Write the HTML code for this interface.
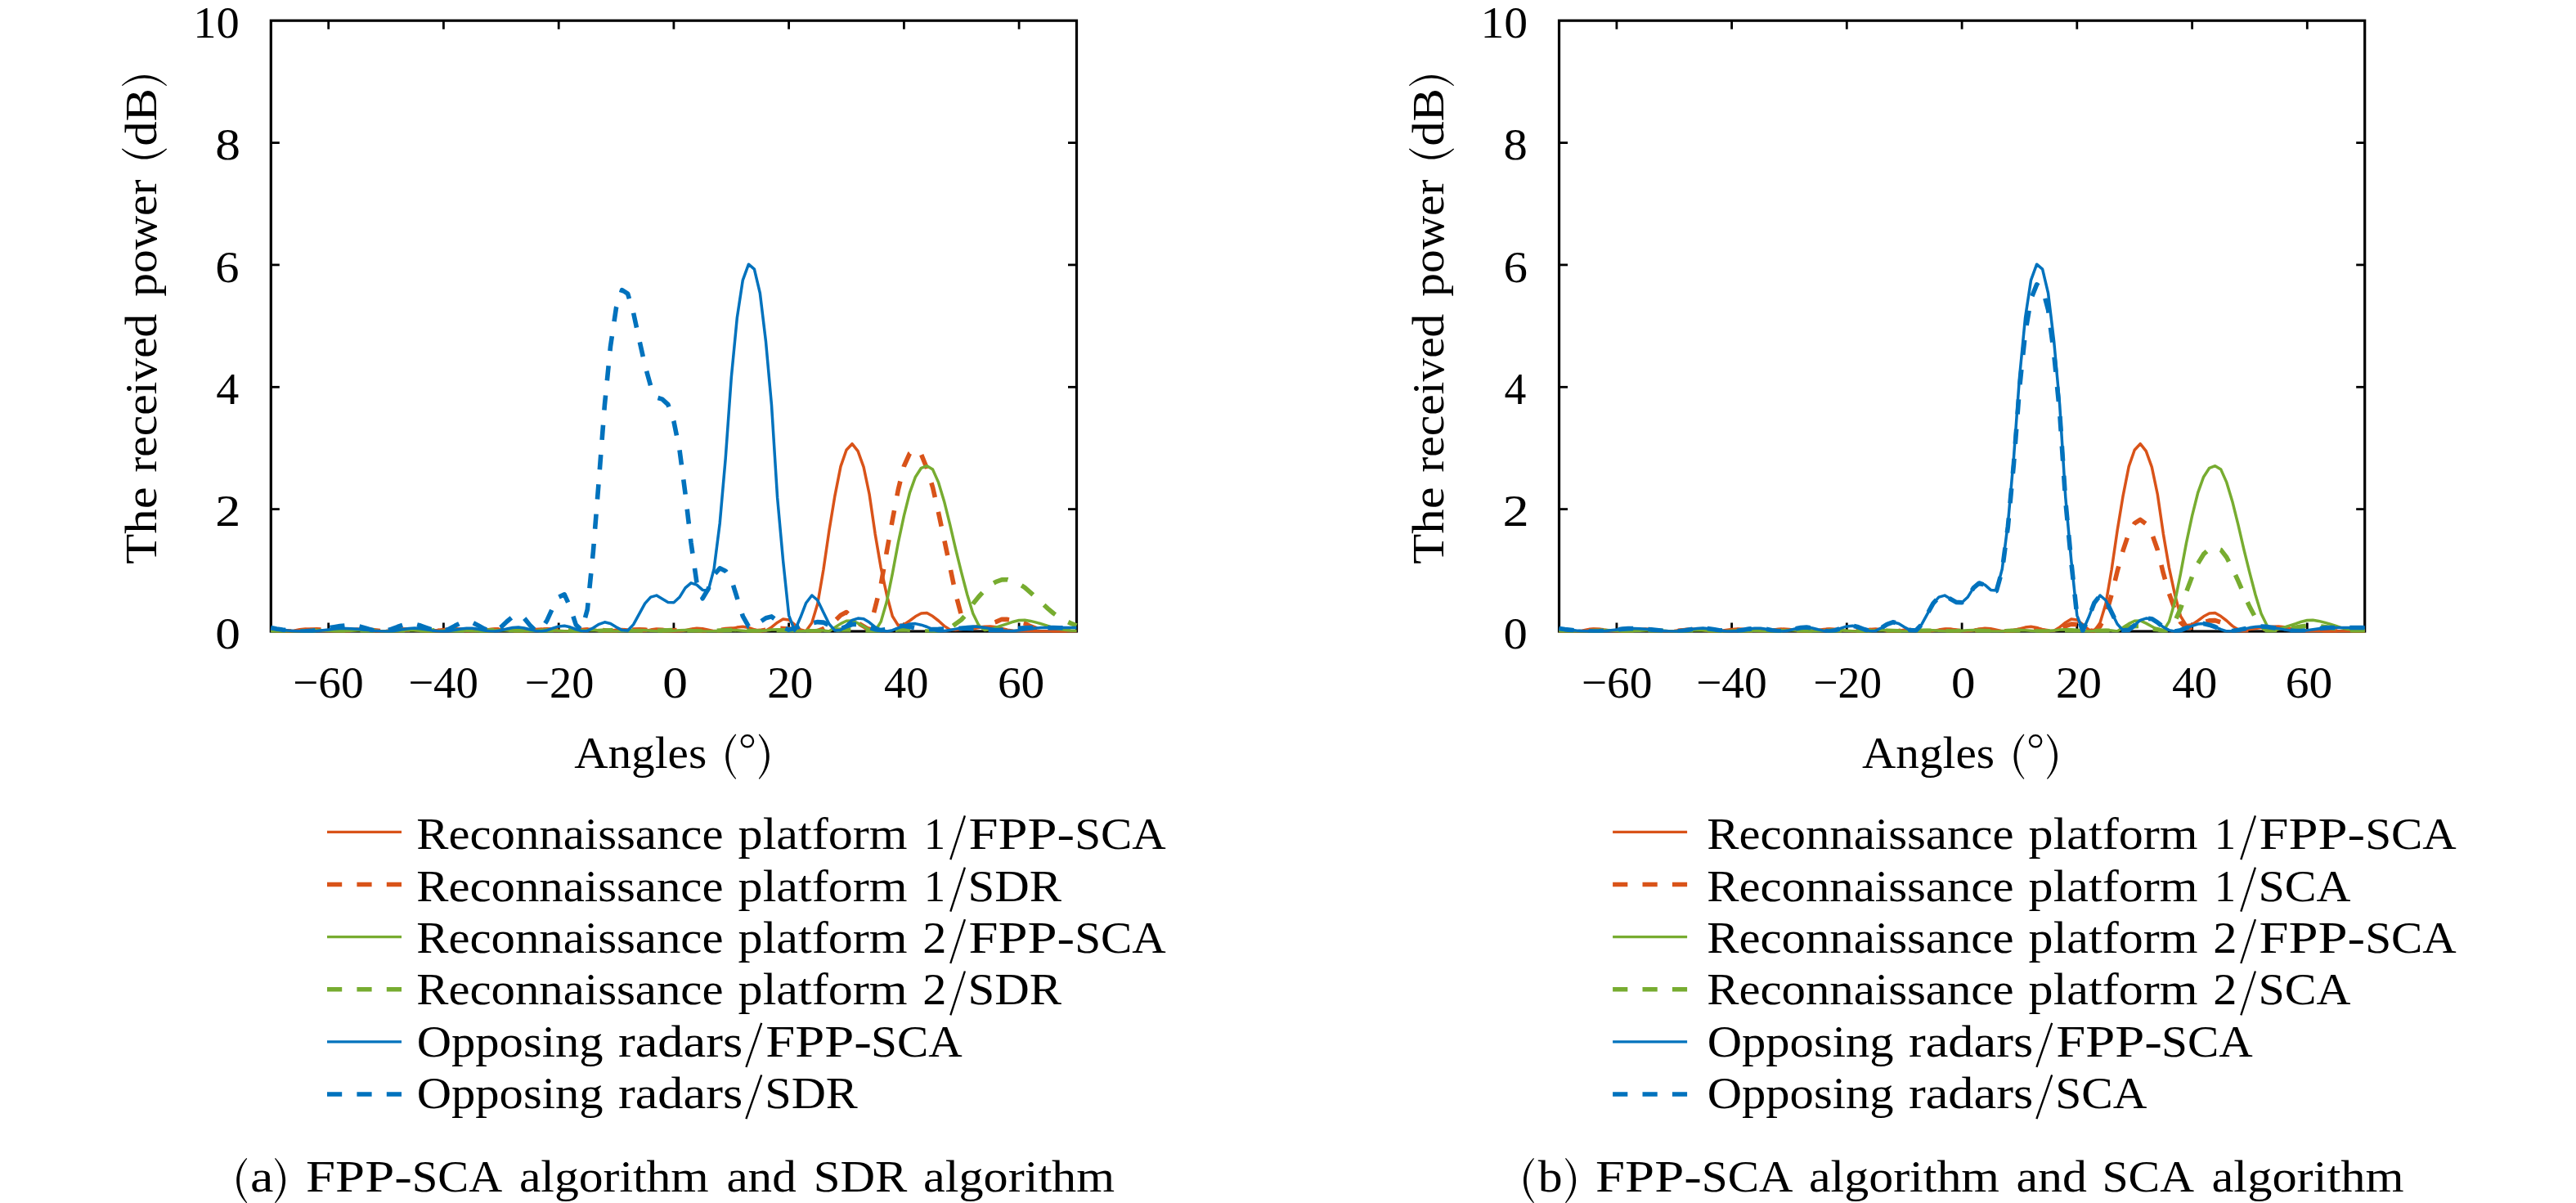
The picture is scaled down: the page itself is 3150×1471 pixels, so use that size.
<!DOCTYPE html>
<html><head><meta charset="utf-8"><title>Received power</title>
<style>
html,body{margin:0;padding:0;background:#fff;}
svg{display:block;}
text{font-family:"Liberation Serif",serif;fill:#000;}
</style></head>
<body>
<svg width="3150" height="1471" viewBox="0 0 3150 1471">
<rect width="3150" height="1471" fill="#fff"/>
<defs><clipPath id="c1"><rect x="329.8" y="23.7" width="988.2" height="749.8"/></clipPath><clipPath id="c2"><rect x="1905.0" y="23.7" width="988.2" height="749.8"/></clipPath></defs>
<!-- left chart -->
<rect x="331.3" y="25.2" width="985.2" height="746.8" fill="none" stroke="#000" stroke-width="3.2"/>
<line x1="401.7" y1="772.0" x2="401.7" y2="761.5" stroke="#000" stroke-width="2.8"/>
<line x1="401.7" y1="25.2" x2="401.7" y2="35.7" stroke="#000" stroke-width="2.8"/>
<line x1="542.4" y1="772.0" x2="542.4" y2="761.5" stroke="#000" stroke-width="2.8"/>
<line x1="542.4" y1="25.2" x2="542.4" y2="35.7" stroke="#000" stroke-width="2.8"/>
<line x1="683.2" y1="772.0" x2="683.2" y2="761.5" stroke="#000" stroke-width="2.8"/>
<line x1="683.2" y1="25.2" x2="683.2" y2="35.7" stroke="#000" stroke-width="2.8"/>
<line x1="823.9" y1="772.0" x2="823.9" y2="761.5" stroke="#000" stroke-width="2.8"/>
<line x1="823.9" y1="25.2" x2="823.9" y2="35.7" stroke="#000" stroke-width="2.8"/>
<line x1="964.6" y1="772.0" x2="964.6" y2="761.5" stroke="#000" stroke-width="2.8"/>
<line x1="964.6" y1="25.2" x2="964.6" y2="35.7" stroke="#000" stroke-width="2.8"/>
<line x1="1105.4" y1="772.0" x2="1105.4" y2="761.5" stroke="#000" stroke-width="2.8"/>
<line x1="1105.4" y1="25.2" x2="1105.4" y2="35.7" stroke="#000" stroke-width="2.8"/>
<line x1="1246.1" y1="772.0" x2="1246.1" y2="761.5" stroke="#000" stroke-width="2.8"/>
<line x1="1246.1" y1="25.2" x2="1246.1" y2="35.7" stroke="#000" stroke-width="2.8"/>
<line x1="331.3" y1="622.6" x2="341.8" y2="622.6" stroke="#000" stroke-width="2.8"/>
<line x1="1316.5" y1="622.6" x2="1306.0" y2="622.6" stroke="#000" stroke-width="2.8"/>
<line x1="331.3" y1="473.3" x2="341.8" y2="473.3" stroke="#000" stroke-width="2.8"/>
<line x1="1316.5" y1="473.3" x2="1306.0" y2="473.3" stroke="#000" stroke-width="2.8"/>
<line x1="331.3" y1="323.9" x2="341.8" y2="323.9" stroke="#000" stroke-width="2.8"/>
<line x1="1316.5" y1="323.9" x2="1306.0" y2="323.9" stroke="#000" stroke-width="2.8"/>
<line x1="331.3" y1="174.6" x2="341.8" y2="174.6" stroke="#000" stroke-width="2.8"/>
<line x1="1316.5" y1="174.6" x2="1306.0" y2="174.6" stroke="#000" stroke-width="2.8"/>
<g clip-path="url(#c1)">
<polyline points="331.3,770.5 338.3,771.4 345.4,771.9 352.4,772.0 359.4,771.2 366.5,769.8 373.5,769.0 380.6,769.4 387.6,770.3 394.6,771.2 401.7,771.9 408.7,771.9 415.7,771.2 422.8,770.3 429.8,769.4 436.9,769.0 443.9,769.5 450.9,770.5 458.0,771.5 465.0,772.0 472.0,771.5 479.1,770.5 486.1,769.5 493.2,769.0 500.2,769.5 507.2,770.5 514.3,771.5 521.3,772.0 528.3,771.5 535.4,770.5 542.4,769.5 549.4,769.0 556.5,769.5 563.5,770.5 570.6,771.5 577.6,772.0 584.6,771.5 591.7,770.5 598.7,769.5 605.7,769.0 612.8,769.5 619.8,770.5 626.9,771.5 633.9,772.0 640.9,771.5 648.0,770.5 655.0,769.5 662.0,769.0 669.1,769.5 676.1,770.5 683.2,771.5 690.2,772.0 697.2,771.5 704.3,770.5 711.3,769.5 718.3,769.0 725.4,769.8 732.4,771.2 739.4,772.0 746.5,771.3 753.5,770.1 760.6,769.4 767.6,770.1 774.6,771.3 781.7,772.0 788.7,771.4 795.7,770.1 802.8,769.1 809.8,769.3 816.9,770.4 823.9,771.7 830.9,771.9 838.0,770.8 845.0,769.2 852.0,768.3 859.1,768.8 866.1,770.2 873.1,771.6 880.2,772.0 887.2,770.9 894.3,768.9 901.3,767.1 908.3,766.3 915.4,767.5 922.4,769.8 929.4,771.7 936.5,771.3 943.5,766.9 950.6,761.2 957.6,757.1 964.6,758.0 971.7,763.7 978.7,769.9 985.7,771.6 992.8,761.6 999.8,738.2 1006.9,696.8 1013.9,648.8 1020.9,606.3 1028.0,570.4 1035.0,550.2 1042.0,542.7 1049.1,551.7 1056.1,571.1 1063.1,604.5 1070.2,653.1 1077.2,694.1 1084.3,727.2 1091.3,753.5 1098.3,764.7 1105.4,763.8 1112.4,759.0 1119.4,753.8 1126.5,750.0 1133.5,749.6 1140.6,753.6 1147.6,759.0 1154.6,765.4 1161.7,770.0 1168.7,770.3 1175.7,769.5 1182.8,768.4 1189.8,767.5 1196.9,766.9 1203.9,766.3 1210.9,766.0 1218.0,766.8 1225.0,768.5 1232.0,770.3 1239.1,771.3 1246.1,771.5 1253.1,771.7 1260.2,771.8 1267.2,771.9 1274.3,772.0 1281.3,772.0 1288.3,772.0 1295.4,772.0 1302.4,772.0 1309.4,772.0 1316.5,772.0" fill="none" stroke="#D95319" stroke-width="3.5" stroke-linejoin="round"/>
<polyline points="331.3,770.5 338.3,771.2 345.4,771.7 352.4,771.9 359.4,772.0 366.5,771.6 373.5,770.9 380.6,770.1 387.6,769.8 394.6,770.1 401.7,770.9 408.7,771.6 415.7,772.0 422.8,771.6 429.8,770.9 436.9,770.1 443.9,769.8 450.9,770.1 458.0,770.9 465.0,771.6 472.0,772.0 479.1,771.6 486.1,770.9 493.2,770.1 500.2,769.8 507.2,770.1 514.3,770.9 521.3,771.6 528.3,772.0 535.4,771.6 542.4,770.9 549.4,770.1 556.5,769.8 563.5,770.1 570.6,770.9 577.6,771.6 584.6,772.0 591.7,771.6 598.7,770.9 605.7,770.1 612.8,769.8 619.8,770.1 626.9,770.9 633.9,771.6 640.9,772.0 648.0,771.6 655.0,770.9 662.0,770.1 669.1,769.8 676.1,770.1 683.2,770.9 690.2,771.6 697.2,772.0 704.3,771.6 711.3,770.9 718.3,770.1 725.4,769.8 732.4,770.1 739.4,770.9 746.5,771.6 753.5,772.0 760.6,771.6 767.6,770.9 774.6,770.1 781.7,769.8 788.7,770.1 795.7,770.9 802.8,771.6 809.8,772.0 816.9,771.6 823.9,770.9 830.9,770.1 838.0,769.8 845.0,770.1 852.0,770.9 859.1,771.6 866.1,772.0 873.1,771.5 880.2,770.5 887.2,769.5 894.3,769.0 901.3,769.5 908.3,770.5 915.4,771.5 922.4,772.0 929.4,771.4 936.5,770.1 943.5,768.8 950.6,768.3 957.6,768.5 964.6,769.1 971.7,769.8 978.7,770.5 985.7,771.2 992.8,771.9 999.8,771.6 1006.9,768.9 1013.9,764.9 1020.9,759.1 1028.0,752.2 1035.0,748.5 1042.0,755.1 1049.1,761.6 1056.1,765.9 1063.1,770.1 1070.2,742.7 1077.2,715.1 1084.3,674.4 1091.3,635.8 1098.3,599.0 1105.4,570.0 1112.4,554.5 1119.4,549.5 1126.5,555.6 1133.5,572.8 1140.6,596.0 1147.6,626.8 1154.6,659.7 1161.7,693.3 1168.7,726.7 1175.7,753.0 1182.8,768.3 1189.8,767.8 1196.9,766.6 1203.9,764.8 1210.9,762.8 1218.0,760.4 1225.0,757.2 1232.0,757.4 1239.1,758.5 1246.1,760.1 1253.1,762.1 1260.2,765.9 1267.2,768.7 1274.3,771.0 1281.3,772.0 1288.3,772.0 1295.4,772.0 1302.4,772.0 1309.4,772.0 1316.5,772.0" fill="none" stroke="#D95319" stroke-width="5.6" stroke-dasharray="18.2 18.2" stroke-dashoffset="-6.7" stroke-linejoin="round"/>
<polyline points="331.3,771.3 338.3,771.6 345.4,771.9 352.4,772.0 359.4,772.0 366.5,771.8 373.5,771.3 380.6,770.7 387.6,770.5 394.6,770.7 401.7,771.3 408.7,771.8 415.7,772.0 422.8,771.8 429.8,771.3 436.9,770.7 443.9,770.5 450.9,770.7 458.0,771.3 465.0,771.8 472.0,772.0 479.1,771.8 486.1,771.3 493.2,770.7 500.2,770.5 507.2,770.7 514.3,771.3 521.3,771.8 528.3,772.0 535.4,771.8 542.4,771.3 549.4,770.7 556.5,770.5 563.5,770.7 570.6,771.3 577.6,771.8 584.6,772.0 591.7,771.8 598.7,771.3 605.7,770.7 612.8,770.5 619.8,770.7 626.9,771.3 633.9,771.8 640.9,772.0 648.0,771.8 655.0,771.3 662.0,770.7 669.1,770.5 676.1,770.7 683.2,771.3 690.2,771.8 697.2,772.0 704.3,771.8 711.3,771.3 718.3,770.7 725.4,770.5 732.4,770.7 739.4,771.3 746.5,771.8 753.5,772.0 760.6,771.8 767.6,771.3 774.6,770.7 781.7,770.5 788.7,770.7 795.7,771.3 802.8,771.8 809.8,772.0 816.9,771.8 823.9,771.3 830.9,770.7 838.0,770.5 845.0,770.7 852.0,771.3 859.1,771.8 866.1,772.0 873.1,771.8 880.2,771.3 887.2,770.7 894.3,770.5 901.3,770.7 908.3,771.3 915.4,771.8 922.4,772.0 929.4,771.6 936.5,770.9 943.5,770.1 950.6,769.8 957.6,770.1 964.6,770.9 971.7,771.6 978.7,772.0 985.7,771.6 992.8,770.9 999.8,770.5 1006.9,771.1 1013.9,771.9 1020.9,767.3 1028.0,762.6 1035.0,759.2 1042.0,758.9 1049.1,762.1 1056.1,766.0 1063.1,770.1 1070.2,771.5 1077.2,760.2 1084.3,735.8 1091.3,701.4 1098.3,663.9 1105.4,630.6 1112.4,602.7 1119.4,583.2 1126.5,572.3 1133.5,569.7 1140.6,574.1 1147.6,589.9 1154.6,613.2 1161.7,641.6 1168.7,671.9 1175.7,700.2 1182.8,727.3 1189.8,750.3 1196.9,764.8 1203.9,770.5 1210.9,769.4 1218.0,767.2 1225.0,764.9 1232.0,762.7 1239.1,760.2 1246.1,758.5 1253.1,758.3 1260.2,759.4 1267.2,761.1 1274.3,763.1 1281.3,765.3 1288.3,767.9 1295.4,769.2 1302.4,770.3 1309.4,771.0 1316.5,771.3" fill="none" stroke="#77AC30" stroke-width="3.5" stroke-linejoin="round"/>
<polyline points="331.3,771.3 338.3,771.6 345.4,771.8 352.4,771.9 359.4,772.0 366.5,772.0 373.5,771.8 380.6,771.5 387.6,771.0 394.6,770.7 401.7,770.5 408.7,770.7 415.7,771.0 422.8,771.5 429.8,771.8 436.9,772.0 443.9,771.8 450.9,771.5 458.0,771.0 465.0,770.7 472.0,770.5 479.1,770.7 486.1,771.0 493.2,771.5 500.2,771.8 507.2,772.0 514.3,771.8 521.3,771.5 528.3,771.0 535.4,770.7 542.4,770.5 549.4,770.7 556.5,771.0 563.5,771.5 570.6,771.8 577.6,772.0 584.6,771.8 591.7,771.5 598.7,771.0 605.7,770.7 612.8,770.5 619.8,770.7 626.9,771.0 633.9,771.5 640.9,771.8 648.0,772.0 655.0,771.8 662.0,771.5 669.1,771.0 676.1,770.7 683.2,770.5 690.2,770.7 697.2,771.0 704.3,771.5 711.3,771.8 718.3,772.0 725.4,771.8 732.4,771.5 739.4,771.0 746.5,770.7 753.5,770.5 760.6,770.7 767.6,771.0 774.6,771.5 781.7,771.8 788.7,772.0 795.7,771.8 802.8,771.5 809.8,771.0 816.9,770.7 823.9,770.5 830.9,770.7 838.0,771.0 845.0,771.5 852.0,771.8 859.1,772.0 866.1,771.8 873.1,771.5 880.2,771.0 887.2,770.7 894.3,770.5 901.3,770.7 908.3,771.0 915.4,771.5 922.4,771.8 929.4,772.0 936.5,771.8 943.5,771.5 950.6,771.0 957.6,770.7 964.6,770.5 971.7,770.7 978.7,771.0 985.7,771.5 992.8,771.8 999.8,772.0 1006.9,771.8 1013.9,771.2 1020.9,770.5 1028.0,770.0 1035.0,769.8 1042.0,770.0 1049.1,770.5 1056.1,771.2 1063.1,771.8 1070.2,772.0 1077.2,771.8 1084.3,771.2 1091.3,770.5 1098.3,770.0 1105.4,769.8 1112.4,770.1 1119.4,770.9 1126.5,771.6 1133.5,772.0 1140.6,772.0 1147.6,772.0 1154.6,772.0 1161.7,768.2 1168.7,762.7 1175.7,757.7 1182.8,749.7 1189.8,738.3 1196.9,729.5 1203.9,722.0 1210.9,715.4 1218.0,711.4 1225.0,708.9 1232.0,708.8 1239.1,710.9 1246.1,714.0 1253.1,718.4 1260.2,724.6 1267.2,731.0 1274.3,737.6 1281.3,744.1 1288.3,750.0 1295.4,754.7 1302.4,758.8 1309.4,762.1 1316.5,764.8" fill="none" stroke="#77AC30" stroke-width="5.6" stroke-dasharray="18.2 18.2" stroke-dashoffset="0" stroke-linejoin="round"/>
<polyline points="331.3,768.6 338.3,769.6 345.4,770.4 352.4,771.1 359.4,771.5 366.5,771.8 373.5,772.0 380.6,771.9 387.6,771.4 394.6,770.7 401.7,769.9 408.7,769.1 415.7,768.6 422.8,768.5 429.8,768.8 436.9,769.3 443.9,769.9 450.9,770.6 458.0,771.3 465.0,771.8 472.0,772.0 479.1,771.7 486.1,770.7 493.2,769.4 500.2,768.4 507.2,768.1 514.3,768.7 521.3,769.7 528.3,770.9 535.4,771.7 542.4,772.0 549.4,771.4 556.5,770.2 563.5,769.1 570.6,768.2 577.6,768.3 584.6,769.3 591.7,770.7 598.7,771.8 605.7,771.9 612.8,770.7 619.8,769.0 626.9,767.5 633.9,767.0 640.9,768.0 648.0,769.8 655.0,771.4 662.0,772.0 669.1,770.7 676.1,768.2 683.2,765.9 690.2,765.2 697.2,766.8 704.3,769.5 711.3,771.7 718.3,771.4 725.4,767.8 732.4,763.3 739.4,760.8 746.5,762.5 753.5,766.7 760.6,770.6 767.6,771.0 774.6,763.6 781.7,750.6 788.7,737.9 795.7,730.1 802.8,728.1 809.8,732.3 816.9,736.4 823.9,736.7 830.9,730.3 838.0,718.8 845.0,712.8 852.0,715.1 859.1,721.4 866.1,721.9 873.1,695.8 880.2,640.0 887.2,560.5 894.3,461.4 901.3,388.8 908.3,342.6 915.4,323.2 922.4,329.1 929.4,358.7 936.5,417.8 943.5,495.3 950.6,608.4 957.6,685.6 964.6,752.3 971.7,771.2 978.7,755.3 985.7,737.2 992.8,728.0 999.8,734.0 1006.9,748.8 1013.9,763.0 1020.9,770.9 1028.0,770.4 1035.0,764.6 1042.0,758.3 1049.1,756.1 1056.1,756.7 1063.1,761.1 1070.2,766.8 1077.2,770.6 1084.3,772.0 1091.3,770.7 1098.3,767.8 1105.4,765.4 1112.4,763.1 1119.4,762.6 1126.5,764.2 1133.5,766.5 1140.6,769.7 1147.6,772.0 1154.6,771.6 1161.7,770.5 1168.7,769.1 1175.7,767.6 1182.8,766.5 1189.8,766.0 1196.9,766.4 1203.9,767.4 1210.9,768.6 1218.0,769.9 1225.0,771.0 1232.0,771.6 1239.1,771.5 1246.1,770.7 1253.1,769.7 1260.2,768.7 1267.2,767.9 1274.3,767.5 1281.3,767.5 1288.3,767.5 1295.4,767.5 1302.4,767.5 1309.4,767.5 1316.5,767.5" fill="none" stroke="#0072BD" stroke-width="3.5" stroke-linejoin="round"/>
<polyline points="331.3,767.5 338.3,768.9 345.4,770.1 352.4,771.0 359.4,771.6 366.5,772.0 373.5,771.9 380.6,771.4 387.6,770.4 394.6,769.2 401.7,767.9 408.7,766.7 415.7,765.6 422.8,764.8 429.8,764.5 436.9,765.3 443.9,767.1 450.9,769.2 458.0,771.1 465.0,772.0 472.0,771.3 479.1,769.2 486.1,766.5 493.2,764.1 500.2,762.8 507.2,763.1 514.3,765.0 521.3,767.6 528.3,770.1 535.4,771.8 542.4,771.6 549.4,769.0 556.5,765.1 563.5,761.6 570.6,759.8 577.6,761.1 584.6,764.7 591.7,768.7 598.7,771.6 605.7,771.3 612.8,766.7 619.8,760.0 626.9,754.1 633.9,751.5 640.9,755.7 648.0,764.4 655.0,771.2 662.0,769.7 669.1,758.2 676.1,742.9 683.2,730.2 690.2,726.8 697.2,742.3 704.3,764.0 711.3,770.5 718.3,745.2 725.4,674.5 732.4,586.4 739.4,495.1 746.5,423.6 753.5,376.4 760.6,354.6 767.6,359.1 774.6,382.6 781.7,415.5 788.7,446.8 795.7,472.0 802.8,486.0 809.8,488.1 816.9,494.6 823.9,515.1 830.9,549.5 838.0,603.5 845.0,663.6 852.0,712.4 859.1,731.8 866.1,720.1 873.1,702.8 880.2,694.8 887.2,698.2 894.3,708.3 901.3,730.9 908.3,753.3 915.4,766.0 922.4,767.3 929.4,760.5 936.5,755.7 943.5,753.9 950.6,759.3 957.6,767.1 964.6,770.1 971.7,768.3 978.7,765.5 985.7,763.5 992.8,761.8 999.8,760.6 1006.9,761.1 1013.9,764.7 1020.9,768.4 1028.0,768.6 1035.0,766.0 1042.0,763.5 1049.1,763.3 1056.1,765.0 1063.1,767.4 1070.2,769.6 1077.2,770.5 1084.3,769.5 1091.3,767.3 1098.3,765.6 1105.4,765.4 1112.4,766.4 1119.4,767.9 1126.5,769.2 1133.5,769.8 1140.6,769.6 1147.6,769.4 1154.6,769.0 1161.7,768.7 1168.7,768.4 1175.7,768.3 1182.8,768.4 1189.8,768.8 1196.9,769.4 1203.9,769.9 1210.9,770.3 1218.0,770.5 1225.0,770.3 1232.0,769.7 1239.1,769.0 1246.1,768.3 1253.1,767.7 1260.2,767.5 1267.2,767.5 1274.3,767.5 1281.3,767.6 1288.3,767.6 1295.4,767.7 1302.4,767.8 1309.4,768.0 1316.5,768.3" fill="none" stroke="#0072BD" stroke-width="5.6" stroke-dasharray="18.2 18.2" stroke-dashoffset="0" stroke-linejoin="round"/>
</g>
<text x="263.30" y="792.80" textLength="30.68" lengthAdjust="spacingAndGlyphs" font-size="55">0</text>
<text x="263.30" y="643.44" textLength="30.93" lengthAdjust="spacingAndGlyphs" font-size="55">2</text>
<text x="264.30" y="494.08" textLength="27.97" lengthAdjust="spacingAndGlyphs" font-size="55">4</text>
<text x="263.30" y="344.72" textLength="29.24" lengthAdjust="spacingAndGlyphs" font-size="55">6</text>
<text x="263.30" y="195.36" textLength="30.68" lengthAdjust="spacingAndGlyphs" font-size="55">8</text>
<text x="236.30" y="46.00" textLength="56.50" lengthAdjust="spacingAndGlyphs" font-size="55">10</text>
<text x="358.00" y="852.60" textLength="86.59" lengthAdjust="spacingAndGlyphs" font-size="55">−60</text>
<text x="499.20" y="852.60" textLength="85.75" lengthAdjust="spacingAndGlyphs" font-size="55">−40</text>
<text x="641.50" y="852.60" textLength="84.81" lengthAdjust="spacingAndGlyphs" font-size="55">−20</text>
<text x="810.20" y="852.60" textLength="30.64" lengthAdjust="spacingAndGlyphs" font-size="55">0</text>
<text x="938.20" y="852.60" textLength="56.01" lengthAdjust="spacingAndGlyphs" font-size="55">20</text>
<text x="1081.10" y="852.60" textLength="54.37" lengthAdjust="spacingAndGlyphs" font-size="55">40</text>
<text x="1219.90" y="852.60" textLength="57.35" lengthAdjust="spacingAndGlyphs" font-size="55">60</text>
<text x="702.20" y="939.00" textLength="162.05" lengthAdjust="spacingAndGlyphs" font-size="55">Angles</text>
<path d="M899.30,897.60 C883.30,914.16 883.30,936.24 899.30,952.80 L900.20,952.00 C887.93,936.24 887.93,914.16 900.20,898.40Z" fill="#000"/>
<circle cx="913.90" cy="906.3" r="7.15" fill="none" stroke="#000" stroke-width="2.3"/>
<path d="M928.70,897.60 C944.83,914.16 944.83,936.24 928.70,952.80 L927.80,952.00 C940.20,936.24 940.20,914.16 927.80,898.40Z" fill="#000"/>
<text transform="translate(190.50,689.70) rotate(-90)" textLength="94.29" lengthAdjust="spacingAndGlyphs" font-size="55">The</text>
<text transform="translate(190.50,577.70) rotate(-90)" textLength="193.92" lengthAdjust="spacingAndGlyphs" font-size="55">received</text>
<text transform="translate(190.50,362.70) rotate(-90)" textLength="143.32" lengthAdjust="spacingAndGlyphs" font-size="55">power</text>
<text transform="translate(190.50,178.80) rotate(-90)" textLength="70.99" lengthAdjust="spacingAndGlyphs" font-size="55">dB</text>
<path d="M-182.50,-41.40 C-198.63,-24.84 -198.63,-2.76 -182.50,13.80 L-181.60,13.00 C-194.00,-2.76 -194.00,-24.84 -181.60,-40.60Z" fill="#000" transform="translate(190.30,0) rotate(-90)"/>
<path d="M-104.20,-41.40 C-87.80,-24.84 -87.80,-2.76 -104.20,13.80 L-105.10,13.00 C-92.43,-2.76 -92.43,-24.84 -105.10,-40.60Z" fill="#000" transform="translate(190.30,0) rotate(-90)"/>
<line x1="400.0" y1="1017.3" x2="491.0" y2="1017.3" stroke="#D95319" stroke-width="3.2"/>
<text x="509.20" y="1038.20" textLength="375.33" lengthAdjust="spacingAndGlyphs" font-size="55">Reconnaissance</text>
<text x="902.60" y="1038.20" textLength="207.03" lengthAdjust="spacingAndGlyphs" font-size="55">platform</text>
<text x="1129.90" y="1038.20" textLength="25.96" lengthAdjust="spacingAndGlyphs" font-size="55">1</text>
<line x1="1162.30" y1="1051.20" x2="1179.90" y2="997.30" stroke="#000" stroke-width="2.4"/>
<text x="1184.50" y="1038.20" textLength="129.62" lengthAdjust="spacingAndGlyphs" font-size="55">FPP-</text>
<text x="1314.20" y="1038.20" textLength="111.55" lengthAdjust="spacingAndGlyphs" font-size="55">SCA</text>
<line x1="400.0" y1="1081.5" x2="491.0" y2="1081.5" stroke="#D95319" stroke-width="5.6" stroke-dasharray="18.2 18.2"/>
<text x="509.20" y="1101.60" textLength="375.33" lengthAdjust="spacingAndGlyphs" font-size="55">Reconnaissance</text>
<text x="902.60" y="1101.60" textLength="207.03" lengthAdjust="spacingAndGlyphs" font-size="55">platform</text>
<text x="1129.90" y="1101.60" textLength="25.96" lengthAdjust="spacingAndGlyphs" font-size="55">1</text>
<line x1="1162.30" y1="1114.60" x2="1179.90" y2="1060.70" stroke="#000" stroke-width="2.4"/>
<text x="1183.40" y="1101.60" textLength="114.54" lengthAdjust="spacingAndGlyphs" font-size="55">SDR</text>
<line x1="400.0" y1="1145.6" x2="491.0" y2="1145.6" stroke="#77AC30" stroke-width="3.2"/>
<text x="509.20" y="1165.00" textLength="375.33" lengthAdjust="spacingAndGlyphs" font-size="55">Reconnaissance</text>
<text x="902.60" y="1165.00" textLength="207.03" lengthAdjust="spacingAndGlyphs" font-size="55">platform</text>
<text x="1128.20" y="1165.00" textLength="29.18" lengthAdjust="spacingAndGlyphs" font-size="55">2</text>
<line x1="1162.30" y1="1178.00" x2="1179.90" y2="1124.10" stroke="#000" stroke-width="2.4"/>
<text x="1184.50" y="1165.00" textLength="129.62" lengthAdjust="spacingAndGlyphs" font-size="55">FPP-</text>
<text x="1314.20" y="1165.00" textLength="111.55" lengthAdjust="spacingAndGlyphs" font-size="55">SCA</text>
<line x1="400.0" y1="1209.8" x2="491.0" y2="1209.8" stroke="#77AC30" stroke-width="5.6" stroke-dasharray="18.2 18.2"/>
<text x="509.20" y="1228.40" textLength="375.33" lengthAdjust="spacingAndGlyphs" font-size="55">Reconnaissance</text>
<text x="902.60" y="1228.40" textLength="207.03" lengthAdjust="spacingAndGlyphs" font-size="55">platform</text>
<text x="1128.20" y="1228.40" textLength="29.18" lengthAdjust="spacingAndGlyphs" font-size="55">2</text>
<line x1="1162.30" y1="1241.40" x2="1179.90" y2="1187.50" stroke="#000" stroke-width="2.4"/>
<text x="1183.40" y="1228.40" textLength="114.54" lengthAdjust="spacingAndGlyphs" font-size="55">SDR</text>
<line x1="400.0" y1="1273.9" x2="491.0" y2="1273.9" stroke="#0072BD" stroke-width="3.2"/>
<text x="509.80" y="1291.80" textLength="227.67" lengthAdjust="spacingAndGlyphs" font-size="55">Opposing</text>
<text x="755.90" y="1291.80" textLength="152.27" lengthAdjust="spacingAndGlyphs" font-size="55">radars</text>
<line x1="912.40" y1="1304.80" x2="931.20" y2="1250.90" stroke="#000" stroke-width="2.4"/>
<text x="936.30" y="1291.80" textLength="129.66" lengthAdjust="spacingAndGlyphs" font-size="55">FPP-</text>
<text x="1065.00" y="1291.80" textLength="111.58" lengthAdjust="spacingAndGlyphs" font-size="55">SCA</text>
<line x1="400.0" y1="1338.0" x2="491.0" y2="1338.0" stroke="#0072BD" stroke-width="5.6" stroke-dasharray="18.2 18.2"/>
<text x="509.80" y="1355.20" textLength="227.67" lengthAdjust="spacingAndGlyphs" font-size="55">Opposing</text>
<text x="755.90" y="1355.20" textLength="152.27" lengthAdjust="spacingAndGlyphs" font-size="55">radars</text>
<line x1="912.40" y1="1368.20" x2="931.20" y2="1314.30" stroke="#000" stroke-width="2.4"/>
<text x="935.20" y="1355.20" textLength="113.66" lengthAdjust="spacingAndGlyphs" font-size="55">SDR</text>
<path d="M301.30,1416.00 C285.17,1432.56 285.17,1454.64 301.30,1471.20 L302.20,1470.40 C289.80,1454.64 289.80,1432.56 302.20,1416.80Z" fill="#000"/><path d="M336.90,1416.00 C353.17,1432.56 353.17,1454.64 336.90,1471.20 L336.00,1470.40 C348.53,1454.64 348.53,1432.56 336.00,1416.80Z" fill="#000"/><text x="305.90" y="1457.40" textLength="28.45" lengthAdjust="spacingAndGlyphs" font-size="55">a</text>
<text x="374.10" y="1457.40" textLength="129.66" lengthAdjust="spacingAndGlyphs" font-size="55">FPP-</text>
<text x="503.80" y="1457.40" textLength="110.33" lengthAdjust="spacingAndGlyphs" font-size="55">SCA</text>
<text x="634.90" y="1457.40" textLength="231.85" lengthAdjust="spacingAndGlyphs" font-size="55">algorithm</text>
<text x="888.40" y="1457.40" textLength="85.29" lengthAdjust="spacingAndGlyphs" font-size="55">and</text>
<text x="994.80" y="1457.40" textLength="114.61" lengthAdjust="spacingAndGlyphs" font-size="55">SDR</text>
<text x="1129.00" y="1457.40" textLength="234.04" lengthAdjust="spacingAndGlyphs" font-size="55">algorithm</text>
<!-- right chart -->
<rect x="1906.5" y="25.2" width="985.2" height="746.8" fill="none" stroke="#000" stroke-width="3.2"/>
<line x1="1976.9" y1="772.0" x2="1976.9" y2="761.5" stroke="#000" stroke-width="2.8"/>
<line x1="1976.9" y1="25.2" x2="1976.9" y2="35.7" stroke="#000" stroke-width="2.8"/>
<line x1="2117.6" y1="772.0" x2="2117.6" y2="761.5" stroke="#000" stroke-width="2.8"/>
<line x1="2117.6" y1="25.2" x2="2117.6" y2="35.7" stroke="#000" stroke-width="2.8"/>
<line x1="2258.3" y1="772.0" x2="2258.3" y2="761.5" stroke="#000" stroke-width="2.8"/>
<line x1="2258.3" y1="25.2" x2="2258.3" y2="35.7" stroke="#000" stroke-width="2.8"/>
<line x1="2399.1" y1="772.0" x2="2399.1" y2="761.5" stroke="#000" stroke-width="2.8"/>
<line x1="2399.1" y1="25.2" x2="2399.1" y2="35.7" stroke="#000" stroke-width="2.8"/>
<line x1="2539.8" y1="772.0" x2="2539.8" y2="761.5" stroke="#000" stroke-width="2.8"/>
<line x1="2539.8" y1="25.2" x2="2539.8" y2="35.7" stroke="#000" stroke-width="2.8"/>
<line x1="2680.6" y1="772.0" x2="2680.6" y2="761.5" stroke="#000" stroke-width="2.8"/>
<line x1="2680.6" y1="25.2" x2="2680.6" y2="35.7" stroke="#000" stroke-width="2.8"/>
<line x1="2821.3" y1="772.0" x2="2821.3" y2="761.5" stroke="#000" stroke-width="2.8"/>
<line x1="2821.3" y1="25.2" x2="2821.3" y2="35.7" stroke="#000" stroke-width="2.8"/>
<line x1="1906.5" y1="622.6" x2="1917.0" y2="622.6" stroke="#000" stroke-width="2.8"/>
<line x1="2891.7" y1="622.6" x2="2881.2" y2="622.6" stroke="#000" stroke-width="2.8"/>
<line x1="1906.5" y1="473.3" x2="1917.0" y2="473.3" stroke="#000" stroke-width="2.8"/>
<line x1="2891.7" y1="473.3" x2="2881.2" y2="473.3" stroke="#000" stroke-width="2.8"/>
<line x1="1906.5" y1="323.9" x2="1917.0" y2="323.9" stroke="#000" stroke-width="2.8"/>
<line x1="2891.7" y1="323.9" x2="2881.2" y2="323.9" stroke="#000" stroke-width="2.8"/>
<line x1="1906.5" y1="174.6" x2="1917.0" y2="174.6" stroke="#000" stroke-width="2.8"/>
<line x1="2891.7" y1="174.6" x2="2881.2" y2="174.6" stroke="#000" stroke-width="2.8"/>
<g clip-path="url(#c2)">
<polyline points="1906.5,770.5 1913.5,771.4 1920.6,771.9 1927.6,772.0 1934.6,771.2 1941.7,769.8 1948.7,769.0 1955.8,769.4 1962.8,770.3 1969.8,771.2 1976.9,771.9 1983.9,771.9 1990.9,771.2 1998.0,770.3 2005.0,769.4 2012.1,769.0 2019.1,769.5 2026.1,770.5 2033.2,771.5 2040.2,772.0 2047.2,771.5 2054.3,770.5 2061.3,769.5 2068.4,769.0 2075.4,769.5 2082.4,770.5 2089.5,771.5 2096.5,772.0 2103.5,771.5 2110.6,770.5 2117.6,769.5 2124.6,769.0 2131.7,769.5 2138.7,770.5 2145.8,771.5 2152.8,772.0 2159.8,771.5 2166.9,770.5 2173.9,769.5 2180.9,769.0 2188.0,769.5 2195.0,770.5 2202.1,771.5 2209.1,772.0 2216.1,771.5 2223.2,770.5 2230.2,769.5 2237.2,769.0 2244.3,769.5 2251.3,770.5 2258.3,771.5 2265.4,772.0 2272.4,771.5 2279.5,770.5 2286.5,769.5 2293.5,769.0 2300.6,769.8 2307.6,771.2 2314.6,772.0 2321.7,771.3 2328.7,770.1 2335.8,769.4 2342.8,770.1 2349.8,771.3 2356.9,772.0 2363.9,771.4 2370.9,770.1 2378.0,769.1 2385.0,769.3 2392.1,770.4 2399.1,771.7 2406.1,771.9 2413.2,770.8 2420.2,769.2 2427.2,768.3 2434.3,768.8 2441.3,770.2 2448.3,771.6 2455.4,772.0 2462.4,770.9 2469.5,768.9 2476.5,767.1 2483.5,766.3 2490.6,767.5 2497.6,769.8 2504.6,771.7 2511.7,771.3 2518.7,766.9 2525.8,761.2 2532.8,757.1 2539.8,758.0 2546.9,763.7 2553.9,769.9 2560.9,771.6 2568.0,761.6 2575.0,738.2 2582.1,696.8 2589.1,648.8 2596.1,606.3 2603.2,570.4 2610.2,550.2 2617.2,542.7 2624.3,551.7 2631.3,571.1 2638.3,604.5 2645.4,653.1 2652.4,694.1 2659.5,727.2 2666.5,753.5 2673.5,764.7 2680.6,763.8 2687.6,759.0 2694.6,753.8 2701.7,750.0 2708.7,749.6 2715.8,753.6 2722.8,759.0 2729.8,765.4 2736.9,770.0 2743.9,770.3 2750.9,769.5 2758.0,768.4 2765.0,767.5 2772.1,766.9 2779.1,766.3 2786.1,766.0 2793.2,766.8 2800.2,768.5 2807.2,770.3 2814.3,771.3 2821.3,771.5 2828.3,771.7 2835.4,771.8 2842.4,771.9 2849.5,772.0 2856.5,772.0 2863.5,772.0 2870.6,772.0 2877.6,772.0 2884.6,772.0 2891.7,772.0" fill="none" stroke="#D95319" stroke-width="3.5" stroke-linejoin="round"/>
<polyline points="1906.5,771.1 1913.5,771.7 1920.6,771.9 1927.6,772.0 1934.6,771.5 1941.7,770.7 1948.7,770.2 1955.8,770.4 1962.8,771.0 1969.8,771.5 1976.9,771.9 1983.9,771.9 1990.9,771.5 1998.0,771.0 2005.0,770.4 2012.1,770.2 2019.1,770.5 2026.1,771.1 2033.2,771.7 2040.2,772.0 2047.2,771.7 2054.3,771.1 2061.3,770.5 2068.4,770.2 2075.4,770.5 2082.4,771.1 2089.5,771.7 2096.5,772.0 2103.5,771.7 2110.6,771.1 2117.6,770.5 2124.6,770.2 2131.7,770.5 2138.7,771.1 2145.8,771.7 2152.8,772.0 2159.8,771.7 2166.9,771.1 2173.9,770.5 2180.9,770.2 2188.0,770.5 2195.0,771.1 2202.1,771.7 2209.1,772.0 2216.1,771.7 2223.2,771.1 2230.2,770.5 2237.2,770.2 2244.3,770.5 2251.3,771.1 2258.3,771.7 2265.4,772.0 2272.4,771.7 2279.5,771.1 2286.5,770.5 2293.5,770.2 2300.6,770.7 2307.6,771.5 2314.6,772.0 2321.7,771.6 2328.7,770.8 2335.8,770.4 2342.8,770.8 2349.8,771.6 2356.9,772.0 2363.9,771.6 2370.9,770.9 2378.0,770.3 2385.0,770.4 2392.1,771.1 2399.1,771.8 2406.1,772.0 2413.2,771.3 2420.2,770.3 2427.2,769.8 2434.3,770.1 2441.3,770.9 2448.3,771.7 2455.4,772.0 2462.4,771.3 2469.5,770.2 2476.5,769.1 2483.5,768.6 2490.6,769.3 2497.6,770.7 2504.6,771.8 2511.7,771.6 2518.7,769.0 2525.8,765.6 2532.8,763.1 2539.8,763.6 2546.9,767.0 2553.9,770.7 2560.9,771.8 2568.0,765.8 2575.0,751.9 2582.1,727.2 2589.1,698.6 2596.1,673.2 2603.2,651.8 2610.2,639.8 2617.2,635.4 2624.3,640.7 2631.3,652.3 2638.3,672.2 2645.4,701.1 2652.4,725.6 2659.5,745.3 2666.5,761.0 2673.5,767.7 2680.6,767.1 2687.6,764.2 2694.6,761.2 2701.7,758.9 2708.7,758.6 2715.8,761.0 2722.8,764.2 2729.8,768.1 2736.9,770.8 2743.9,771.0 2750.9,770.5 2758.0,769.8 2765.0,769.3 2772.1,768.9 2779.1,768.6 2786.1,768.4 2793.2,768.9 2800.2,769.9 2807.2,771.0 2814.3,771.6 2821.3,771.7 2828.3,771.8 2835.4,771.9 2842.4,771.9 2849.5,772.0 2856.5,772.0 2863.5,772.0 2870.6,772.0 2877.6,772.0 2884.6,772.0 2891.7,772.0" fill="none" stroke="#D95319" stroke-width="5.6" stroke-dasharray="18.2 18.2" stroke-dashoffset="0" stroke-linejoin="round"/>
<polyline points="1906.5,771.3 1913.5,771.6 1920.6,771.9 1927.6,772.0 1934.6,772.0 1941.7,771.8 1948.7,771.3 1955.8,770.7 1962.8,770.5 1969.8,770.7 1976.9,771.3 1983.9,771.8 1990.9,772.0 1998.0,771.8 2005.0,771.3 2012.1,770.7 2019.1,770.5 2026.1,770.7 2033.2,771.3 2040.2,771.8 2047.2,772.0 2054.3,771.8 2061.3,771.3 2068.4,770.7 2075.4,770.5 2082.4,770.7 2089.5,771.3 2096.5,771.8 2103.5,772.0 2110.6,771.8 2117.6,771.3 2124.6,770.7 2131.7,770.5 2138.7,770.7 2145.8,771.3 2152.8,771.8 2159.8,772.0 2166.9,771.8 2173.9,771.3 2180.9,770.7 2188.0,770.5 2195.0,770.7 2202.1,771.3 2209.1,771.8 2216.1,772.0 2223.2,771.8 2230.2,771.3 2237.2,770.7 2244.3,770.5 2251.3,770.7 2258.3,771.3 2265.4,771.8 2272.4,772.0 2279.5,771.8 2286.5,771.3 2293.5,770.7 2300.6,770.5 2307.6,770.7 2314.6,771.3 2321.7,771.8 2328.7,772.0 2335.8,771.8 2342.8,771.3 2349.8,770.7 2356.9,770.5 2363.9,770.7 2370.9,771.3 2378.0,771.8 2385.0,772.0 2392.1,771.8 2399.1,771.3 2406.1,770.7 2413.2,770.5 2420.2,770.7 2427.2,771.3 2434.3,771.8 2441.3,772.0 2448.3,771.8 2455.4,771.3 2462.4,770.7 2469.5,770.5 2476.5,770.7 2483.5,771.3 2490.6,771.8 2497.6,772.0 2504.6,771.6 2511.7,770.9 2518.7,770.1 2525.8,769.8 2532.8,770.1 2539.8,770.9 2546.9,771.6 2553.9,772.0 2560.9,771.6 2568.0,770.9 2575.0,770.5 2582.1,771.1 2589.1,771.9 2596.1,767.3 2603.2,762.6 2610.2,759.2 2617.2,758.9 2624.3,762.1 2631.3,766.0 2638.3,770.1 2645.4,771.5 2652.4,760.2 2659.5,735.8 2666.5,701.4 2673.5,663.9 2680.6,630.6 2687.6,602.7 2694.6,583.2 2701.7,572.3 2708.7,569.7 2715.8,574.1 2722.8,589.9 2729.8,613.2 2736.9,641.6 2743.9,671.9 2750.9,700.2 2758.0,727.3 2765.0,750.3 2772.1,764.8 2779.1,770.5 2786.1,769.4 2793.2,767.2 2800.2,764.9 2807.2,762.7 2814.3,760.2 2821.3,758.5 2828.3,758.3 2835.4,759.4 2842.4,761.1 2849.5,763.1 2856.5,765.3 2863.5,767.9 2870.6,769.2 2877.6,770.3 2884.6,771.0 2891.7,771.3" fill="none" stroke="#77AC30" stroke-width="3.5" stroke-linejoin="round"/>
<polyline points="1906.5,771.6 1913.5,771.8 1920.6,771.9 1927.6,772.0 1934.6,772.0 1941.7,771.9 1948.7,771.6 1955.8,771.4 1962.8,771.2 1969.8,771.4 1976.9,771.6 1983.9,771.9 1990.9,772.0 1998.0,771.9 2005.0,771.6 2012.1,771.4 2019.1,771.2 2026.1,771.4 2033.2,771.6 2040.2,771.9 2047.2,772.0 2054.3,771.9 2061.3,771.6 2068.4,771.4 2075.4,771.2 2082.4,771.4 2089.5,771.6 2096.5,771.9 2103.5,772.0 2110.6,771.9 2117.6,771.6 2124.6,771.4 2131.7,771.2 2138.7,771.4 2145.8,771.6 2152.8,771.9 2159.8,772.0 2166.9,771.9 2173.9,771.6 2180.9,771.4 2188.0,771.2 2195.0,771.4 2202.1,771.6 2209.1,771.9 2216.1,772.0 2223.2,771.9 2230.2,771.6 2237.2,771.4 2244.3,771.2 2251.3,771.4 2258.3,771.6 2265.4,771.9 2272.4,772.0 2279.5,771.9 2286.5,771.6 2293.5,771.4 2300.6,771.2 2307.6,771.4 2314.6,771.6 2321.7,771.9 2328.7,772.0 2335.8,771.9 2342.8,771.6 2349.8,771.4 2356.9,771.2 2363.9,771.4 2370.9,771.6 2378.0,771.9 2385.0,772.0 2392.1,771.9 2399.1,771.6 2406.1,771.4 2413.2,771.2 2420.2,771.4 2427.2,771.6 2434.3,771.9 2441.3,772.0 2448.3,771.9 2455.4,771.6 2462.4,771.4 2469.5,771.2 2476.5,771.4 2483.5,771.6 2490.6,771.9 2497.6,772.0 2504.6,771.8 2511.7,771.4 2518.7,771.0 2525.8,770.9 2532.8,771.0 2539.8,771.4 2546.9,771.8 2553.9,772.0 2560.9,771.8 2568.0,771.4 2575.0,771.2 2582.1,771.5 2589.1,772.0 2596.1,769.6 2603.2,767.2 2610.2,765.6 2617.2,765.4 2624.3,767.0 2631.3,769.0 2638.3,769.6 2645.4,771.7 2652.4,770.0 2659.5,759.9 2666.5,744.1 2673.5,723.7 2680.6,704.9 2687.6,689.1 2694.6,677.7 2701.7,671.3 2708.7,669.8 2715.8,672.4 2722.8,681.5 2729.8,695.1 2736.9,710.3 2743.9,726.7 2750.9,741.9 2758.0,755.2 2765.0,765.9 2772.1,770.9 2779.1,770.9 2786.1,769.8 2793.2,769.6 2800.2,768.4 2807.2,767.3 2814.3,766.1 2821.3,765.2 2828.3,765.1 2835.4,765.6 2842.4,766.5 2849.5,767.5 2856.5,768.6 2863.5,770.0 2870.6,770.6 2877.6,771.1 2884.6,771.5 2891.7,771.6" fill="none" stroke="#77AC30" stroke-width="5.6" stroke-dasharray="18.2 18.2" stroke-dashoffset="0" stroke-linejoin="round"/>
<polyline points="1906.5,768.6 1913.5,769.6 1920.6,770.4 1927.6,771.1 1934.6,771.5 1941.7,771.8 1948.7,772.0 1955.8,771.9 1962.8,771.4 1969.8,770.7 1976.9,769.9 1983.9,769.1 1990.9,768.6 1998.0,768.5 2005.0,768.8 2012.1,769.3 2019.1,769.9 2026.1,770.6 2033.2,771.3 2040.2,771.8 2047.2,772.0 2054.3,771.7 2061.3,770.7 2068.4,769.4 2075.4,768.4 2082.4,768.1 2089.5,768.7 2096.5,769.7 2103.5,770.9 2110.6,771.7 2117.6,772.0 2124.6,771.4 2131.7,770.2 2138.7,769.1 2145.8,768.2 2152.8,768.3 2159.8,769.3 2166.9,770.7 2173.9,771.8 2180.9,771.9 2188.0,770.7 2195.0,769.0 2202.1,767.5 2209.1,767.0 2216.1,768.0 2223.2,769.8 2230.2,771.4 2237.2,772.0 2244.3,770.7 2251.3,768.2 2258.3,765.9 2265.4,765.2 2272.4,766.8 2279.5,769.5 2286.5,771.7 2293.5,771.4 2300.6,767.8 2307.6,763.3 2314.6,760.8 2321.7,762.5 2328.7,766.7 2335.8,770.6 2342.8,771.0 2349.8,763.6 2356.9,750.6 2363.9,737.9 2370.9,730.1 2378.0,728.1 2385.0,732.3 2392.1,736.4 2399.1,736.7 2406.1,730.3 2413.2,718.8 2420.2,712.8 2427.2,715.1 2434.3,721.4 2441.3,721.9 2448.3,695.8 2455.4,640.0 2462.4,560.5 2469.5,461.4 2476.5,388.8 2483.5,342.6 2490.6,323.2 2497.6,329.1 2504.6,358.7 2511.7,417.8 2518.7,495.3 2525.8,608.4 2532.8,685.6 2539.8,752.3 2546.9,771.2 2553.9,755.3 2560.9,737.2 2568.0,728.0 2575.0,734.0 2582.1,748.8 2589.1,763.0 2596.1,770.9 2603.2,770.4 2610.2,764.6 2617.2,758.3 2624.3,756.1 2631.3,756.7 2638.3,761.1 2645.4,766.8 2652.4,770.6 2659.5,772.0 2666.5,770.7 2673.5,767.8 2680.6,765.4 2687.6,763.1 2694.6,762.6 2701.7,764.2 2708.7,766.5 2715.8,769.7 2722.8,772.0 2729.8,771.6 2736.9,770.5 2743.9,769.1 2750.9,767.6 2758.0,766.5 2765.0,766.0 2772.1,766.4 2779.1,767.4 2786.1,768.6 2793.2,769.9 2800.2,771.0 2807.2,771.6 2814.3,771.5 2821.3,770.7 2828.3,769.7 2835.4,768.7 2842.4,767.9 2849.5,767.5 2856.5,767.5 2863.5,767.5 2870.6,767.5 2877.6,767.5 2884.6,767.5 2891.7,767.5" fill="none" stroke="#0072BD" stroke-width="3.5" stroke-linejoin="round"/>
<polyline points="1906.5,768.6 1913.5,769.6 1920.6,770.4 1927.6,771.1 1934.6,771.5 1941.7,771.8 1948.7,772.0 1955.8,771.9 1962.8,771.4 1969.8,770.7 1976.9,769.9 1983.9,769.1 1990.9,768.6 1998.0,768.5 2005.0,768.8 2012.1,769.3 2019.1,769.9 2026.1,770.6 2033.2,771.3 2040.2,771.8 2047.2,772.0 2054.3,771.7 2061.3,770.7 2068.4,769.4 2075.4,768.4 2082.4,768.1 2089.5,768.7 2096.5,769.7 2103.5,770.9 2110.6,771.7 2117.6,772.0 2124.6,771.4 2131.7,770.2 2138.7,769.1 2145.8,768.2 2152.8,768.3 2159.8,769.3 2166.9,770.7 2173.9,771.8 2180.9,771.9 2188.0,770.7 2195.0,769.0 2202.1,767.5 2209.1,767.0 2216.1,768.0 2223.2,769.8 2230.2,771.4 2237.2,772.0 2244.3,770.7 2251.3,768.2 2258.3,765.9 2265.4,765.2 2272.4,766.8 2279.5,769.5 2286.5,771.7 2293.5,771.4 2300.6,767.8 2307.6,763.3 2314.6,760.8 2321.7,762.5 2328.7,766.7 2335.8,770.6 2342.8,771.0 2349.8,763.6 2356.9,750.6 2363.9,737.9 2370.9,730.1 2378.0,728.1 2385.0,732.3 2392.1,736.4 2399.1,736.8 2406.1,730.3 2413.2,718.9 2420.2,713.0 2427.2,715.4 2434.3,721.9 2441.3,722.6 2448.3,697.3 2455.4,643.6 2462.4,568.0 2469.5,474.7 2476.5,407.6 2483.5,365.6 2490.6,347.9 2497.6,352.8 2504.6,379.0 2511.7,433.0 2518.7,505.1 2525.8,612.9 2532.8,687.4 2539.8,752.5 2546.9,771.2 2553.9,755.4 2560.9,737.3 2568.0,728.1 2575.0,734.1 2582.1,748.8 2589.1,763.0 2596.1,770.9 2603.2,770.4 2610.2,764.6 2617.2,758.3 2624.3,756.1 2631.3,756.7 2638.3,761.1 2645.4,766.8 2652.4,770.6 2659.5,772.0 2666.5,770.7 2673.5,767.8 2680.6,765.4 2687.6,763.1 2694.6,762.6 2701.7,764.2 2708.7,766.5 2715.8,769.7 2722.8,772.0 2729.8,771.6 2736.9,770.5 2743.9,769.1 2750.9,767.6 2758.0,766.5 2765.0,766.0 2772.1,766.4 2779.1,767.4 2786.1,768.6 2793.2,769.9 2800.2,771.0 2807.2,771.6 2814.3,771.5 2821.3,770.7 2828.3,769.7 2835.4,768.7 2842.4,767.9 2849.5,767.5 2856.5,767.5 2863.5,767.5 2870.6,767.5 2877.6,767.5 2884.6,767.5 2891.7,767.5" fill="none" stroke="#0072BD" stroke-width="5.6" stroke-dasharray="18.2 18.2" stroke-dashoffset="0" stroke-linejoin="round"/>
</g>
<text x="1838.50" y="792.80" textLength="29.29" lengthAdjust="spacingAndGlyphs" font-size="55">0</text>
<text x="1837.50" y="643.44" textLength="32.17" lengthAdjust="spacingAndGlyphs" font-size="55">2</text>
<text x="1839.50" y="494.08" textLength="26.81" lengthAdjust="spacingAndGlyphs" font-size="55">4</text>
<text x="1838.50" y="344.72" textLength="29.46" lengthAdjust="spacingAndGlyphs" font-size="55">6</text>
<text x="1838.50" y="195.36" textLength="29.29" lengthAdjust="spacingAndGlyphs" font-size="55">8</text>
<text x="1810.50" y="46.00" textLength="57.66" lengthAdjust="spacingAndGlyphs" font-size="55">10</text>
<text x="1933.80" y="852.60" textLength="86.59" lengthAdjust="spacingAndGlyphs" font-size="55">−60</text>
<text x="2074.00" y="852.60" textLength="86.81" lengthAdjust="spacingAndGlyphs" font-size="55">−40</text>
<text x="2217.30" y="852.60" textLength="83.75" lengthAdjust="spacingAndGlyphs" font-size="55">−20</text>
<text x="2386.00" y="852.60" textLength="29.46" lengthAdjust="spacingAndGlyphs" font-size="55">0</text>
<text x="2514.00" y="852.60" textLength="55.92" lengthAdjust="spacingAndGlyphs" font-size="55">20</text>
<text x="2655.90" y="852.60" textLength="55.41" lengthAdjust="spacingAndGlyphs" font-size="55">40</text>
<text x="2794.70" y="852.60" textLength="57.44" lengthAdjust="spacingAndGlyphs" font-size="55">60</text>
<text x="2277.00" y="939.00" textLength="162.04" lengthAdjust="spacingAndGlyphs" font-size="55">Angles</text>
<path d="M2474.50,897.60 C2458.50,914.16 2458.50,936.24 2474.50,952.80 L2475.40,952.00 C2463.13,936.24 2463.13,914.16 2475.40,898.40Z" fill="#000"/>
<circle cx="2489.10" cy="906.3" r="7.15" fill="none" stroke="#000" stroke-width="2.3"/>
<path d="M2503.90,897.60 C2520.03,914.16 2520.03,936.24 2503.90,952.80 L2503.00,952.00 C2515.40,936.24 2515.40,914.16 2503.00,898.40Z" fill="#000"/>
<text transform="translate(1764.50,689.70) rotate(-90)" textLength="94.29" lengthAdjust="spacingAndGlyphs" font-size="55">The</text>
<text transform="translate(1764.50,577.70) rotate(-90)" textLength="193.92" lengthAdjust="spacingAndGlyphs" font-size="55">received</text>
<text transform="translate(1764.50,362.70) rotate(-90)" textLength="143.32" lengthAdjust="spacingAndGlyphs" font-size="55">power</text>
<text transform="translate(1764.50,178.80) rotate(-90)" textLength="70.99" lengthAdjust="spacingAndGlyphs" font-size="55">dB</text>
<path d="M-182.50,-41.40 C-198.63,-24.84 -198.63,-2.76 -182.50,13.80 L-181.60,13.00 C-194.00,-2.76 -194.00,-24.84 -181.60,-40.60Z" fill="#000" transform="translate(1764.30,0) rotate(-90)"/>
<path d="M-104.20,-41.40 C-87.80,-24.84 -87.80,-2.76 -104.20,13.80 L-105.10,13.00 C-92.43,-2.76 -92.43,-24.84 -105.10,-40.60Z" fill="#000" transform="translate(1764.30,0) rotate(-90)"/>
<line x1="1972.1" y1="1017.3" x2="2063.1" y2="1017.3" stroke="#D95319" stroke-width="3.2"/>
<text x="2087.20" y="1038.20" textLength="375.33" lengthAdjust="spacingAndGlyphs" font-size="55">Reconnaissance</text>
<text x="2480.60" y="1038.20" textLength="207.03" lengthAdjust="spacingAndGlyphs" font-size="55">platform</text>
<text x="2707.90" y="1038.20" textLength="25.96" lengthAdjust="spacingAndGlyphs" font-size="55">1</text>
<line x1="2740.30" y1="1051.20" x2="2757.90" y2="997.30" stroke="#000" stroke-width="2.4"/>
<text x="2762.50" y="1038.20" textLength="129.62" lengthAdjust="spacingAndGlyphs" font-size="55">FPP-</text>
<text x="2892.20" y="1038.20" textLength="111.55" lengthAdjust="spacingAndGlyphs" font-size="55">SCA</text>
<line x1="1972.1" y1="1081.5" x2="2063.1" y2="1081.5" stroke="#D95319" stroke-width="5.6" stroke-dasharray="18.2 18.2"/>
<text x="2087.20" y="1101.60" textLength="375.33" lengthAdjust="spacingAndGlyphs" font-size="55">Reconnaissance</text>
<text x="2480.60" y="1101.60" textLength="207.03" lengthAdjust="spacingAndGlyphs" font-size="55">platform</text>
<text x="2707.90" y="1101.60" textLength="25.96" lengthAdjust="spacingAndGlyphs" font-size="55">1</text>
<line x1="2740.30" y1="1114.60" x2="2757.90" y2="1060.70" stroke="#000" stroke-width="2.4"/>
<text x="2761.40" y="1101.60" textLength="113.11" lengthAdjust="spacingAndGlyphs" font-size="55">SCA</text>
<line x1="1972.1" y1="1145.6" x2="2063.1" y2="1145.6" stroke="#77AC30" stroke-width="3.2"/>
<text x="2087.20" y="1165.00" textLength="375.33" lengthAdjust="spacingAndGlyphs" font-size="55">Reconnaissance</text>
<text x="2480.60" y="1165.00" textLength="207.03" lengthAdjust="spacingAndGlyphs" font-size="55">platform</text>
<text x="2706.20" y="1165.00" textLength="29.18" lengthAdjust="spacingAndGlyphs" font-size="55">2</text>
<line x1="2740.30" y1="1178.00" x2="2757.90" y2="1124.10" stroke="#000" stroke-width="2.4"/>
<text x="2762.50" y="1165.00" textLength="129.62" lengthAdjust="spacingAndGlyphs" font-size="55">FPP-</text>
<text x="2892.20" y="1165.00" textLength="111.55" lengthAdjust="spacingAndGlyphs" font-size="55">SCA</text>
<line x1="1972.1" y1="1209.8" x2="2063.1" y2="1209.8" stroke="#77AC30" stroke-width="5.6" stroke-dasharray="18.2 18.2"/>
<text x="2087.20" y="1228.40" textLength="375.33" lengthAdjust="spacingAndGlyphs" font-size="55">Reconnaissance</text>
<text x="2480.60" y="1228.40" textLength="207.03" lengthAdjust="spacingAndGlyphs" font-size="55">platform</text>
<text x="2706.20" y="1228.40" textLength="29.18" lengthAdjust="spacingAndGlyphs" font-size="55">2</text>
<line x1="2740.30" y1="1241.40" x2="2757.90" y2="1187.50" stroke="#000" stroke-width="2.4"/>
<text x="2761.40" y="1228.40" textLength="113.11" lengthAdjust="spacingAndGlyphs" font-size="55">SCA</text>
<line x1="1972.1" y1="1273.9" x2="2063.1" y2="1273.9" stroke="#0072BD" stroke-width="3.2"/>
<text x="2087.80" y="1291.80" textLength="227.67" lengthAdjust="spacingAndGlyphs" font-size="55">Opposing</text>
<text x="2333.90" y="1291.80" textLength="152.27" lengthAdjust="spacingAndGlyphs" font-size="55">radars</text>
<line x1="2490.40" y1="1304.80" x2="2509.20" y2="1250.90" stroke="#000" stroke-width="2.4"/>
<text x="2514.30" y="1291.80" textLength="129.66" lengthAdjust="spacingAndGlyphs" font-size="55">FPP-</text>
<text x="2643.00" y="1291.80" textLength="111.58" lengthAdjust="spacingAndGlyphs" font-size="55">SCA</text>
<line x1="1972.1" y1="1338.0" x2="2063.1" y2="1338.0" stroke="#0072BD" stroke-width="5.6" stroke-dasharray="18.2 18.2"/>
<text x="2087.80" y="1355.20" textLength="227.67" lengthAdjust="spacingAndGlyphs" font-size="55">Opposing</text>
<text x="2333.90" y="1355.20" textLength="152.27" lengthAdjust="spacingAndGlyphs" font-size="55">radars</text>
<line x1="2490.40" y1="1368.20" x2="2509.20" y2="1314.30" stroke="#000" stroke-width="2.4"/>
<text x="2513.20" y="1355.20" textLength="112.16" lengthAdjust="spacingAndGlyphs" font-size="55">SCA</text>
<path d="M1875.10,1416.00 C1858.97,1432.56 1858.97,1454.64 1875.10,1471.20 L1876.00,1470.40 C1863.60,1454.64 1863.60,1432.56 1876.00,1416.80Z" fill="#000"/><path d="M1914.90,1416.00 C1931.17,1432.56 1931.17,1454.64 1914.90,1471.20 L1914.00,1470.40 C1926.53,1454.64 1926.53,1432.56 1914.00,1416.80Z" fill="#000"/><text x="1880.70" y="1457.40" textLength="29.84" lengthAdjust="spacingAndGlyphs" font-size="55">b</text>
<text x="1951.10" y="1457.40" textLength="129.66" lengthAdjust="spacingAndGlyphs" font-size="55">FPP-</text>
<text x="2080.80" y="1457.40" textLength="111.58" lengthAdjust="spacingAndGlyphs" font-size="55">SCA</text>
<text x="2212.00" y="1457.40" textLength="232.94" lengthAdjust="spacingAndGlyphs" font-size="55">algorithm</text>
<text x="2465.50" y="1457.40" textLength="86.41" lengthAdjust="spacingAndGlyphs" font-size="55">and</text>
<text x="2570.40" y="1457.40" textLength="112.64" lengthAdjust="spacingAndGlyphs" font-size="55">SCA</text>
<text x="2704.50" y="1457.40" textLength="235.16" lengthAdjust="spacingAndGlyphs" font-size="55">algorithm</text>
</svg>
</body></html>
